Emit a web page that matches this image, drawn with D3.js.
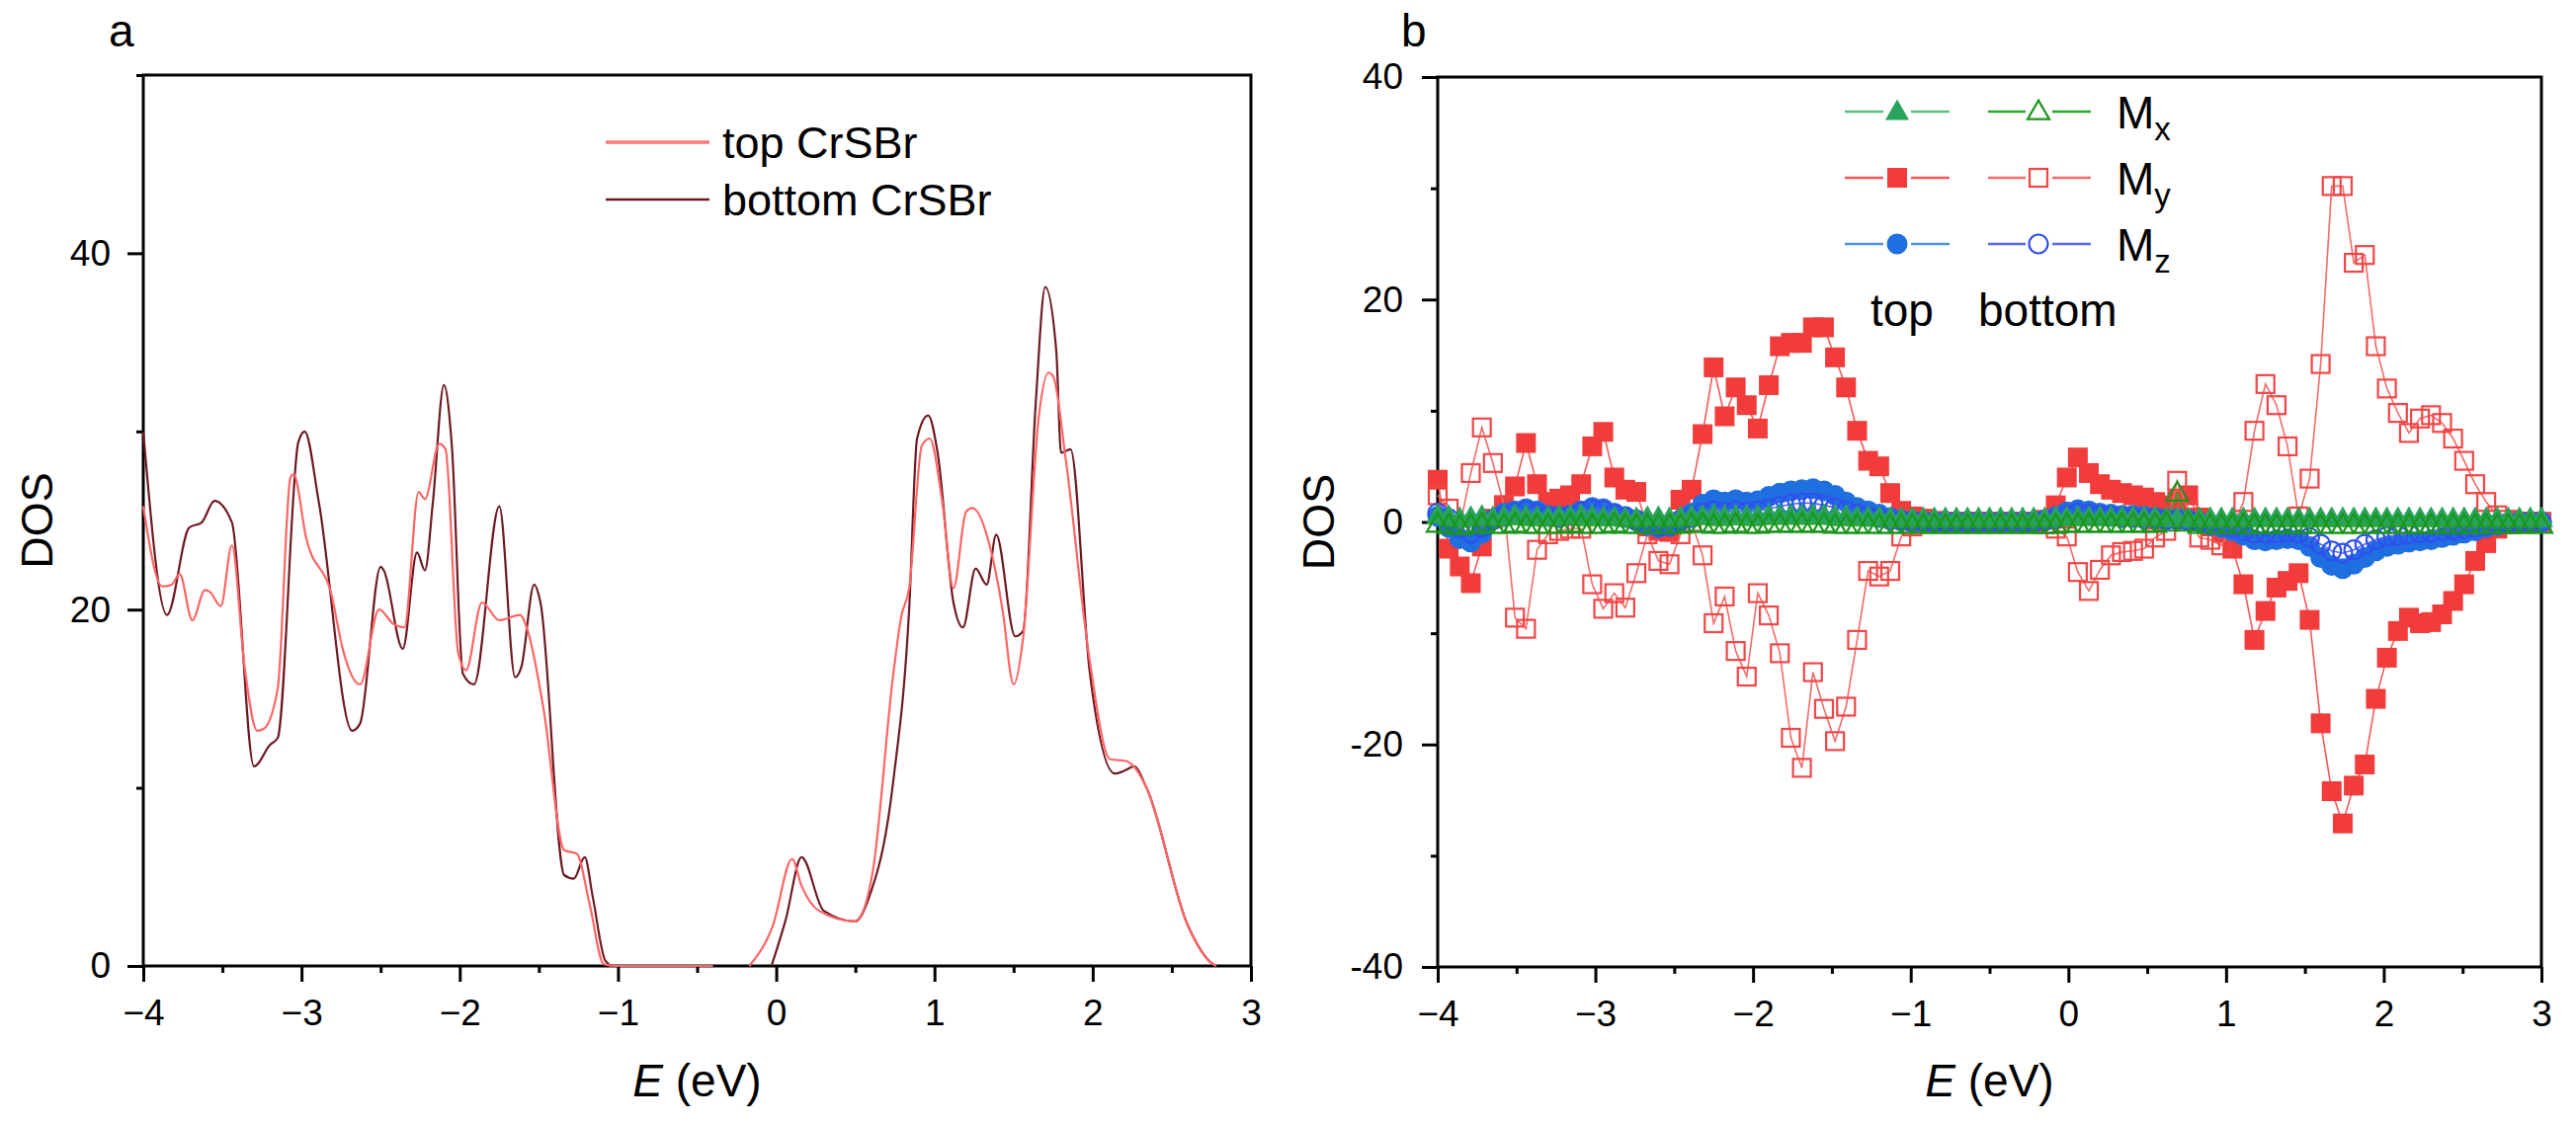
<!DOCTYPE html>
<html><head><meta charset="utf-8">
<script src="https://cdn.jsdelivr.net/npm/d3@7/dist/d3.min.js"></script>
<style>
body{margin:0;background:#fff;}
text{font-family:"Liberation Sans",Arial,Helvetica,sans-serif;fill:#000;}
</style>
</head><body>
<svg id="chart" width="2607" height="1137"></svg>
<script>
// ---------------- DATA ----------------
// Panel a: total DOS of top and bottom CrSBr (null = gap in the curve)
const aTopE   = [-4,-3.88,-3.82,-3.77,-3.69,-3.61,-3.58,-3.51,-3.44,-3.36,-3.28,-3.24,-3.15,-3.07,-3.05,-2.97,-2.81,-2.74,-2.63,-2.51,-2.42,-2.35,-2.26,-2.22,-2.13,-2.09,-2.01,-1.96,-1.86,-1.75,-1.62,-1.57,-1.47,-1.34,-1.26,-1.18,-1.09,-1.0,-0.4,-0.39,-0.18,-0.17,-0.02,0.10,0.16,0.27,0.50,0.61,0.74,0.79,0.84,0.92,0.97,1.05,1.12,1.20,1.24,1.36,1.43,1.50,1.56,1.66,1.72,1.75,1.83,1.98,2.11,2.21,2.26,2.34,2.60,2.76,2.78];
const aTopDOS = [25.8,21.3,21.4,22.0,19.4,21.1,21.0,20.2,23.6,16.8,13.2,13.3,15.6,27.4,27.6,24.0,20.8,17.8,15.8,20.0,19.2,19.0,26.6,26.2,29.3,29.0,17.6,16.6,20.4,19.4,19.7,18.8,14.4,6.5,6.3,3.5,0.1,0,0,null,null,0,2.3,6.0,4.5,3.1,2.5,5.3,16.4,19.6,21.2,29.2,29.6,26.0,21.2,25.5,25.7,23.2,20.0,15.8,18.4,30.9,33.3,33.1,28.4,17.2,11.6,11.5,11.2,10.0,2.3,0.1,0];
const aBotE   = [-4,-3.85,-3.71,-3.63,-3.55,-3.44,-3.30,-3.20,-3.15,-3.02,-2.98,-2.89,-2.68,-2.63,-2.50,-2.48,-2.36,-2.27,-2.22,-2.17,-2.10,-2.05,-1.98,-1.91,-1.75,-1.65,-1.61,-1.53,-1.49,-1.34,-1.28,-1.21,-1.16,-1.08,-1.03,-0.4,-0.39,-0.04,-0.03,0.06,0.16,0.30,0.50,0.58,0.74,0.84,0.89,0.96,1.02,1.12,1.18,1.26,1.33,1.39,1.51,1.56,1.64,1.70,1.77,1.80,1.86,1.98,2.14,2.21,2.26,2.34,2.60,2.76,2.78];
const aBotDOS = [30.0,19.7,24.6,24.9,26.1,24.9,11.2,12.4,12.8,29.4,30.0,26.0,13.2,13.6,22.4,22.2,17.8,23.2,22.2,26.0,32.6,29.2,16.4,15.8,25.8,16.2,16.8,21.4,20.4,5.1,4.9,6.1,3.9,0.3,0,0,null,null,0,2.6,6.1,3.1,2.5,3.7,10.4,20.0,29.6,30.9,28.8,20.4,19.0,22.3,21.4,24.2,18.5,18.8,31.6,38.1,34.5,28.8,29.0,16.6,10.8,11.0,11.2,10.0,2.3,0.1,0];
const aSeriesNames = ["top CrSBr","bottom CrSBr"];

// Panel b: magnetisation-resolved DOS on a common energy grid
const bEnergy = [-4.00,-3.93,-3.86,-3.79,-3.72,-3.65,-3.58,-3.51,-3.44,-3.37,
  -3.30,-3.23,-3.16,-3.09,-3.02,-2.95,-2.88,-2.81,-2.74,-2.67,
  -2.60,-2.53,-2.46,-2.39,-2.32,-2.25,-2.18,-2.11,-2.04,-1.97,
  -1.90,-1.83,-1.76,-1.69,-1.62,-1.55,-1.48,-1.41,-1.34,-1.27,
  -1.20,-1.13,-1.06,-0.99,-0.92,-0.85,-0.78,-0.71,-0.64,-0.57,
  -0.50,-0.43,-0.36,-0.29,-0.22,-0.15,-0.08,-0.01,0.06,0.13,
  0.20,0.27,0.34,0.41,0.48,0.55,0.62,0.69,0.76,0.83,
  0.90,0.97,1.04,1.11,1.18,1.25,1.32,1.39,1.46,1.53,
  1.60,1.67,1.74,1.81,1.88,1.95,2.02,2.09,2.16,2.23,
  2.30,2.37,2.44,2.51,2.58,2.65,2.72,2.79,2.86,2.93,
  3.00];
const myTop = [3.8,-2.4,-4.0,-5.5,-2.2,0.3,1.5,3.2,7.1,3.4,
  1.8,2.1,2.4,3.4,6.8,8.1,4.0,2.9,2.7,-0.4,
  -0.8,-0.9,2.0,2.9,7.9,13.9,9.5,12.1,10.5,8.4,
  12.3,15.8,16.1,16.1,17.5,17.5,14.8,12.1,8.2,5.5,
  5.0,2.6,1.0,0.5,0.3,0.1,0,0,0,0,
  0,0,0,0,0,0.2,1.5,4.0,5.8,4.4,
  3.4,2.9,2.6,2.4,2.2,1.8,1.5,1.9,2.4,0.4,
  -0.4,-1.0,-2.4,-5.6,-10.6,-8.0,-5.9,-5.3,-4.6,-8.8,
  -18.1,-24.2,-27.1,-23.7,-21.8,-15.9,-12.2,-9.8,-8.6,-9.1,
  -9.0,-8.3,-7.1,-5.6,-3.5,-1.9,-0.6,-0.2,0,0,
  0];
const myBot = [2.4,1.2,-0.5,4.4,8.5,5.3,1.5,-8.6,-9.6,-2.5,
  -1.1,-0.8,-0.6,-0.6,-5.6,-7.8,-6.4,-7.7,-4.6,-1.1,
  -3.5,-3.8,-1.1,0,-3.0,-9.1,-6.7,-11.6,-13.9,-6.4,
  -8.4,-11.8,-19.4,-22.1,-13.5,-16.8,-19.7,-16.6,-10.6,-4.4,
  -4.9,-4.4,-1.3,-0.4,-0.1,0,0,0,0,0,
  0,0,0,0,0,-0.2,-0.6,-1.3,-4.5,-6.2,
  -4.3,-3.0,-2.7,-2.6,-2.4,-1.4,-0.8,3.7,1.0,-1.4,
  -1.6,-2.1,-0.5,1.8,8.2,12.4,10.5,6.8,0.5,3.9,
  14.2,30.2,30.2,23.3,24.0,15.8,12.0,9.8,8.0,9.3,
  9.6,8.9,7.5,5.5,3.4,1.8,0.6,0.2,0,0,
  0];
const mzTop = [0.5,-0.5,-1.5,-1.8,-1.0,0.2,0.8,1.0,1.2,1.0,
  0.6,0.5,0.6,1.0,1.3,1.2,0.8,0.5,0.2,-0.3,
  -0.5,-0.4,0.2,0.8,1.6,2.0,1.8,2.0,1.8,1.9,
  2.3,2.6,2.8,2.9,3.0,2.8,2.4,1.8,1.3,1.0,
  0.7,0.4,0.2,0.1,0.05,0,0,0,0,0,
  0,0,0,0,0,0.2,0.5,0.9,1.1,1.0,
  0.8,0.7,0.6,0.6,0.5,0.4,0.3,0.3,0.2,0,
  -0.3,-0.5,-0.8,-1.2,-1.6,-1.7,-1.6,-1.5,-1.6,-2.2,
  -3.2,-3.9,-4.2,-3.8,-3.2,-2.6,-2.2,-2.0,-1.8,-1.7,
  -1.6,-1.4,-1.2,-1.0,-0.8,-0.5,-0.3,-0.1,0,0,
  0];
const mzBot = [0.8,0.3,-0.5,-1.0,-0.5,0.2,0.5,0.8,1.0,0.8,
  0.5,0.4,0.6,0.9,1.1,1.0,0.7,0.4,0.1,-0.2,
  -0.4,-0.3,0.1,0.4,0.8,1.0,0.9,1.0,0.9,1.0,
  1.2,1.4,1.6,1.7,1.7,1.5,1.3,1.0,0.7,0.5,
  0.4,0.2,0.1,0,0,0,0,0,0,0,
  0,0,0,0,0,0.1,0.3,0.6,0.8,0.7,
  0.6,0.5,0.4,0.4,0.3,0.3,0.2,0.2,0.1,0,
  -0.2,-0.3,-0.5,-0.8,-1.0,-1.0,-1.0,-0.9,-1.0,-1.4,
  -2.0,-2.6,-2.8,-2.5,-2.0,-1.6,-1.3,-1.2,-1.1,-1.0,
  -0.9,-0.8,-0.7,-0.6,-0.5,-0.3,-0.2,-0.1,0,0,
  0];
const mxTop = [0.6,0.5,0.3,0.4,0.5,0.4,0.5,0.6,0.5,0.4,
  0.4,0.5,0.5,0.6,0.5,0.4,0.4,0.3,0.3,0.4,
  0.4,0.3,0.4,0.5,0.5,0.6,0.5,0.5,0.5,0.5,
  0.6,0.6,0.6,0.6,0.6,0.6,0.5,0.5,0.4,0.4,
  0.4,0.3,0.3,0.3,0.3,0.3,0.3,0.3,0.3,0.3,
  0.3,0.3,0.3,0.3,0.3,0.3,0.4,0.4,0.4,0.4,
  0.4,0.4,0.4,0.4,0.4,0.4,0.3,0.3,0.3,0.3,
  0.3,0.3,0.3,0.3,0.3,0.3,0.3,0.3,0.3,0.3,
  0.3,0.3,0.3,0.3,0.3,0.3,0.3,0.3,0.3,0.3,
  0.3,0.3,0.3,0.3,0.3,0.3,0.3,0.3,0.3,0.3,
  0.3];
const mxBot = [-0.2,-0.3,-0.4,-0.3,-0.2,-0.3,-0.3,-0.2,-0.3,-0.3,
  -0.3,-0.3,-0.2,-0.3,-0.3,-0.3,-0.2,-0.3,-0.3,-0.3,
  -0.3,-0.3,-0.3,-0.2,-0.2,-0.3,-0.3,-0.2,-0.3,-0.3,
  -0.2,-0.2,-0.2,-0.2,-0.2,-0.2,-0.3,-0.3,-0.3,-0.3,
  -0.3,-0.3,-0.3,-0.3,-0.3,-0.3,-0.3,-0.3,-0.3,-0.3,
  -0.3,-0.3,-0.3,-0.3,-0.3,-0.3,-0.3,-0.2,-0.2,-0.2,
  -0.2,-0.2,-0.2,-0.2,-0.2,-0.2,-0.1,2.6,-0.1,-0.3,
  -0.3,-0.3,-0.3,-0.3,-0.3,-0.3,-0.3,-0.3,-0.3,-0.3,
  -0.3,-0.3,-0.3,-0.3,-0.3,-0.3,-0.3,-0.3,-0.3,-0.3,
  -0.3,-0.3,-0.3,-0.3,-0.3,-0.3,-0.3,-0.3,-0.3,-0.3,
  -0.3];
const bLegendRows = ["x","y","z"];
const bLegendCols = ["top","bottom"];

const xTicks = [-4,-3,-2,-1,0,1,2,3];
const xMinor = [-3.5,-2.5,-1.5,-0.5,0.5,1.5,2.5];
const aYTicks = [0,20,40];
const aYMinor = [10,30,50];
const bYTicks = [-40,-20,0,20,40];
const bYMinor = [-30,-10,10,30];

// ---------------- DRAW ----------------
const svg = d3.select("#chart");
const xa = d3.scaleLinear().domain([-4,3]).range([145,1266]);
const ya = d3.scaleLinear().domain([0,50]).range([978,76]);
const xb = d3.scaleLinear().domain([-4,3]).range([1455,2572]);
const yb = d3.scaleLinear().domain([-40,40]).range([979,78]);

function drawAxes(x, y, yTicks, yMinor, yFmt, yPad){
  const [x0,x1] = x.range(), [y0,y1] = y.range();
  const g = svg.append("g");
  g.append("rect").attr("x",x0).attr("y",y1).attr("width",x1-x0).attr("height",y0-y1)
    .attr("fill","none").attr("stroke","#000").attr("stroke-width",3);
  const fmtX = d3.format("");
  const xa1 = g.append("g").attr("transform",`translate(0,${y0})`)
    .call(d3.axisBottom(x).tickValues(xTicks).tickSize(16).tickSizeOuter(0).tickPadding(18).tickFormat(d=>fmtX(d)));
  const xa2 = g.append("g").attr("transform",`translate(0,${y0})`)
    .call(d3.axisBottom(x).tickValues(xMinor).tickSize(7).tickSizeOuter(0).tickFormat(""));
  const ya1 = g.append("g").attr("transform",`translate(${x0},0)`)
    .call(d3.axisLeft(y).tickValues(yTicks).tickSize(16).tickSizeOuter(0).tickPadding(yPad).tickFormat(yFmt));
  const ya2 = g.append("g").attr("transform",`translate(${x0},0)`)
    .call(d3.axisLeft(y).tickValues(yMinor).tickSize(7).tickSizeOuter(0).tickFormat(""));
  [xa1,xa2,ya1,ya2].forEach(a=>{
    a.select(".domain").remove();
    a.selectAll(".tick line").attr("stroke","#000").attr("stroke-width",3);
    a.selectAll(".tick text").attr("font-size",37).attr("font-family",'"Liberation Sans",Arial,sans-serif').attr("fill","#000");
  });
}

// ----- Panel a -----
drawAxes(xa, ya, aYTicks, aYMinor, d=>String(d), 17);
const aTop = aTopE.map((e,i)=>({e, v:aTopDOS[i]}));
const aBot = aBotE.map((e,i)=>({e, v:aBotDOS[i]}));
const lineA = d3.line().defined(d=>d.v!==null).x(d=>xa(d.e)).y(d=>ya(d.v)).curve(d3.curveMonotoneX);
svg.append("path").datum(aBot).attr("d",lineA).attr("fill","none").attr("stroke","#6e1a22").attr("stroke-width",2.2);
svg.append("path").datum(aTop).attr("d",lineA).attr("fill","none").attr("stroke","#ff6565").attr("stroke-width",2.2);

// legend a
const legA = [{name:aSeriesNames[0], color:"#ff7a7a", y:144, w:3.5},{name:aSeriesNames[1], color:"#6e1a22", y:202, w:2.5}];
legA.forEach(l=>{
  svg.append("line").attr("x1",613).attr("x2",718).attr("y1",l.y).attr("y2",l.y).attr("stroke",l.color).attr("stroke-width",l.w);
  svg.append("text").attr("x",731).attr("y",l.y+16).attr("font-size",45).text(l.name);
});

// titles a
svg.append("text").attr("x",110).attr("y",47).attr("font-size",46).text("a");
svg.append("text").attr("transform",`translate(53,${(ya.range()[0]+ya.range()[1])/2}) rotate(-90)`)
  .attr("text-anchor","middle").attr("font-size",45).text("DOS");
const ta = svg.append("text").attr("x",(xa.range()[0]+xa.range()[1])/2).attr("y",1110).attr("text-anchor","middle").attr("font-size",46);
ta.append("tspan").attr("font-style","italic").text("E");
ta.append("tspan").text(" (eV)");

// ----- Panel b -----
drawAxes(xb, yb, bYTicks, bYMinor, d=> d<0 ? "-"+Math.abs(d) : String(d), 19);
const bSeries = [
  {vals:myTop, shape:"square", filled:true,  color:"#f23b3b", line:"#f45a5a"},
  {vals:myBot, shape:"square", filled:false, color:"#f24646", line:"#f56a6a"},
  {vals:mzTop, shape:"circle", filled:true,  color:"#1f6fe0", line:"#4b8fe8"},
  {vals:mzBot, shape:"circle", filled:false, color:"#2f4ff0", line:"#5468f0"},
  {vals:mxTop, shape:"triangle", filled:true,  color:"#28a35c", line:"#5cc083"},
  {vals:mxBot, shape:"triangle", filled:false, color:"#1a961a", line:"#2ea52e"}
];
const lineB = d3.line().x(d=>xb(d.e)).y(d=>yb(d.v));
function marker(g, shape, filled, color, cx, cy){
  const fill = filled ? color : "none";
  const sw = filled ? 0 : 2.2;
  if(shape==="square"){
    const s = filled ? 20 : 18;
    g.append("rect").attr("x",cx-s/2).attr("y",cy-s/2).attr("width",s).attr("height",s)
      .attr("fill",fill).attr("stroke",color).attr("stroke-width",sw);
  } else if(shape==="circle"){
    g.append("circle").attr("cx",cx).attr("cy",cy).attr("r",filled?10.5:9.5)
      .attr("fill",fill).attr("stroke",color).attr("stroke-width",sw);
  } else {
    const w = filled?24:22, h = filled?21:19;
    g.append("path").attr("d",`M${cx},${cy-h*0.6}L${cx+w/2},${cy+h*0.4}L${cx-w/2},${cy+h*0.4}Z`)
      .attr("fill",fill).attr("stroke",color).attr("stroke-width",sw).attr("stroke-linejoin","miter");
  }
}
bSeries.forEach(s=>{
  const pts = bEnergy.map((e,i)=>({e, v:s.vals[i]}));
  const g = svg.append("g");
  g.append("path").datum(pts).attr("d",lineB).attr("fill","none").attr("stroke",s.line).attr("stroke-width",1.6);
  pts.forEach(p=>marker(g, s.shape, s.filled, s.color, xb(p.e), yb(p.v)));
});

// legend b
const rowY = [113,180,247];
const shapeFor = {x:"triangle", y:"square", z:"circle"};
const seriesFor = {x:[4,5], y:[0,1], z:[2,3]};
const colX = [{l0:1867,l1:1906,c:1920,r0:1934,r1:1973},{l0:2012,l1:2050,c:2063,r0:2077,r1:2116}];
bLegendRows.forEach((r,ri)=>{
  const y = rowY[ri];
  seriesFor[r].forEach((si,ci)=>{
    const s = bSeries[si], c = colX[ci];
    svg.append("line").attr("x1",c.l0).attr("x2",c.l1).attr("y1",y).attr("y2",y).attr("stroke",s.line).attr("stroke-width",2.5);
    svg.append("line").attr("x1",c.r0).attr("x2",c.r1).attr("y1",y).attr("y2",y).attr("stroke",s.line).attr("stroke-width",2.5);
    marker(svg, shapeFor[r], s.filled, s.color, c.c, y);
  });
  const t = svg.append("text").attr("x",2142).attr("y",y+17).attr("font-size",46);
  t.append("tspan").text("M");
  t.append("tspan").attr("font-size",33).attr("dy",12).text(r);
});
svg.append("text").attr("x",1893).attr("y",330).attr("font-size",46).text(bLegendCols[0]);
svg.append("text").attr("x",2002).attr("y",330).attr("font-size",46).text(bLegendCols[1]);

// titles b
svg.append("text").attr("x",1418).attr("y",47).attr("font-size",46).text("b");
svg.append("text").attr("transform",`translate(1350,${(yb.range()[0]+yb.range()[1])/2}) rotate(-90)`)
  .attr("text-anchor","middle").attr("font-size",45).text("DOS");
const tb = svg.append("text").attr("x",(xb.range()[0]+xb.range()[1])/2).attr("y",1110).attr("text-anchor","middle").attr("font-size",46);
tb.append("tspan").attr("font-style","italic").text("E");
tb.append("tspan").text(" (eV)");
</script>
</body></html>
